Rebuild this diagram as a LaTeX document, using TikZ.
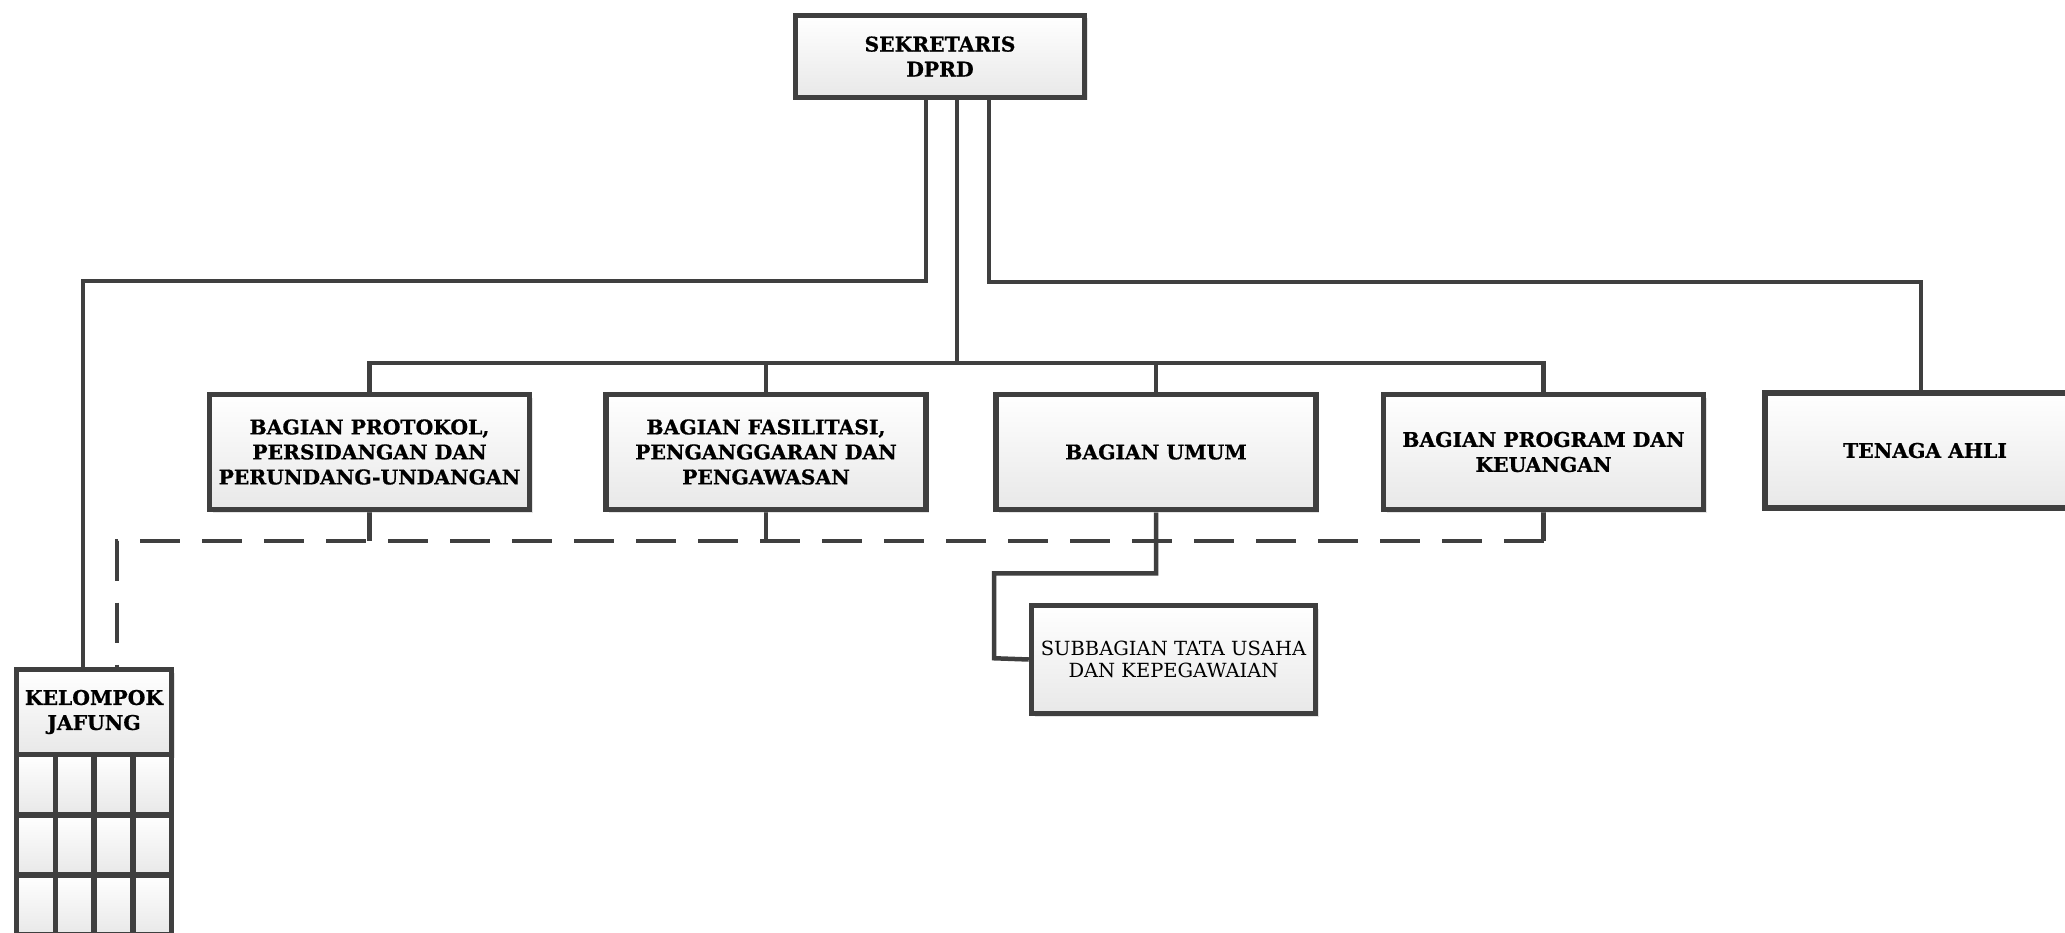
\documentclass[tikz,border=0pt]{standalone}
\usepackage{fontspec}
\setmainfont[BoldFeatures={FakeBold=0.8}]{DejaVu Serif}
\usetikzlibrary{shadows,backgrounds}
\definecolor{ln}{HTML}{3F3F3F}
\definecolor{boxshade}{HTML}{E8E8E8}
\begin{document}
\begin{tikzpicture}[x=1pt,y=-1pt,
  orgbox/.style={draw=ln, line width=5.5pt, top color=white, bottom color=boxshade,
    align=center, inner sep=0pt, minimum width=320pt, minimum height=115pt,
    drop shadow={shadow xshift=3pt, shadow yshift=-3pt, opacity=0.35, fill=black!30},
    font=\bfseries\fontsize{20.3}{25}\selectfont},
  subbox/.style={orgbox, font=\mdseries\fontsize{19.5}{22.5}\selectfont},
  cell/.style={draw=ln, line width=5.5pt, top color=white, bottom color=boxshade},
  link/.style={draw=ln, line width=4.5pt},
  dlink/.style={link, dash pattern=on 40pt off 22pt}]
\useasboundingbox (0,0) rectangle (2065,933);
\clip (0,0) rectangle (2065,933);

% boxes
\node[orgbox, minimum width=289pt, minimum height=82pt] (sek) at (940,56.5) {SEKRETARIS\\DPRD};
\node[orgbox] (prot) at (369.5,452) {BAGIAN PROTOKOL,\\PERSIDANGAN DAN\\PERUNDANG-UNDANGAN};
\node[orgbox] (fas) at (766,452) {BAGIAN FASILITASI,\\PENGANGGARAN DAN\\PENGAWASAN};
\node[orgbox] (umum) at (1156,452) {BAGIAN UMUM};
\node[orgbox] (prog) at (1543.5,452) {BAGIAN PROGRAM DAN\\KEUANGAN};
\node[orgbox] (ten) at (1925,450.5) {TENAGA AHLI};
\node[subbox, minimum width=284pt, minimum height=108pt] (sub) at (1173.5,659.5) {SUBBAGIAN TATA USAHA\\DAN KEPEGAWAIAN};
\node[orgbox, minimum width=155pt, minimum height=85pt] (kel) at (94,712) {KELOMPOK\\JAFUNG};

% member grid below the group header
\foreach \i in {0,1,2,3}
  \foreach \r in {754.5,815,875}
    \draw[cell] ({16.5+\i*38.75},\r) rectangle ++(38.75,60);

% connectors
\begin{scope}[on background layer]
\coordinate (bus) at (957,363);
\coordinate (dash) at (117,541);
\draw[link] ([xshift=-14pt]sek.south) -- ++(0,181) -| ([xshift=-11pt]kel.north);
\draw[link] ([xshift=49pt]sek.south) -- ++(0,182) -| ([xshift=-4pt]ten.north);
\draw[link] (sek.south -| bus) -- (bus);
\draw[link] (prot.north) |- (bus) -| (prog.north);
\draw[link] (fas.north) -- (fas.north |- bus);
\draw[link] (umum.north) -- (umum.north |- bus);
\draw[link] (prot.south) -- (prot.south |- dash);
\draw[link] (fas.south) -- (fas.south |- dash);
\draw[link] (prog.south) -- (prog.south |- dash);
\draw[dlink] (prog.south |- dash) -- (dash) -- (dash |- kel.north);
\draw[link] (umum.south) -- ++(0,61) -| ++(-162,85) -- (sub.west);
\end{scope}
\end{tikzpicture}
\end{document}
